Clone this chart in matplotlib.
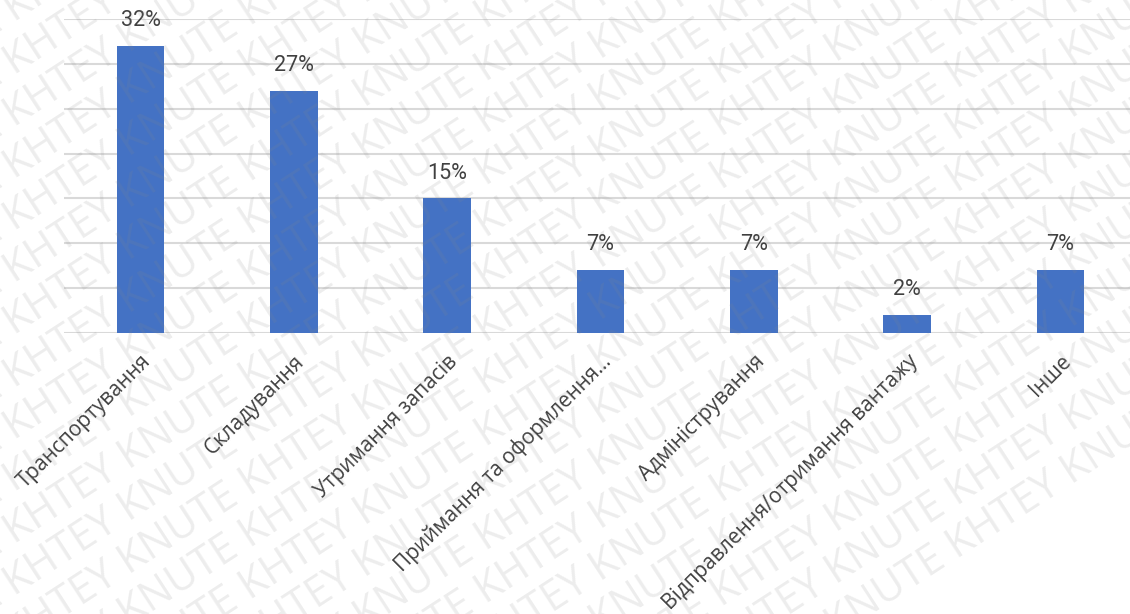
import matplotlib.pyplot as plt
import numpy as npy

categories = ["Транспортування", "Складування", "Утримання запасів",
              "Приймання та оформлення...", "Адміністрування",
              "Відправлення/отримання вантажу", "Інше"]
shares = [32, 27, 15, 7, 7, 2, 7]
bar_labels = ["32%", "27%", "15%", "7%", "7%", "2%", "7%"]

plt.rcParams['font.family'] = ['Open Sans', 'DejaVu Sans']

fig = plt.figure(figsize=(11.3, 6.14), dpi=100)
ax = fig.add_axes([64 / 1130, 281 / 614, 1073 / 1130, 314 / 614])

x = npy.arange(len(categories))
ax.bar(x, shares, width=0.31, color='#4472C4', zorder=3)
for xi, v, lab in zip(x, shares, bar_labels):
    ax.text(xi, v + 1.65, lab, ha='center', va='bottom', fontsize=15.5,
            color='#404040', family='Roboto', zorder=4)

ax.set_xlim(-0.5, len(categories) - 0.5)
ax.set_ylim(0, 35)
ax.set_yticks(npy.arange(0, 36, 5))
ax.yaxis.grid(True, color='#d9d9d9', linewidth=1.5, zorder=0)
ax.tick_params(axis='y', left=False, labelleft=False)
ax.tick_params(axis='x', length=0, pad=13)
for s in ax.spines.values():
    s.set_visible(False)

ax.set_xticks(x)
ax.set_xticklabels(categories, rotation=45, ha='right', va='top',
                   rotation_mode='anchor', fontsize=15, color='#404040')

# watermark
wm = "KNUTE KHTEY " * 12
for i in range(-12, 16):
    fig.text(-0.1, i * 0.085, wm, rotation=33, rotation_mode='anchor',
             fontsize=30, color='#888888', alpha=0.15, ha='left', va='center',
             family='Open Sans', zorder=10)

fig.savefig('out.png', dpi=100)
